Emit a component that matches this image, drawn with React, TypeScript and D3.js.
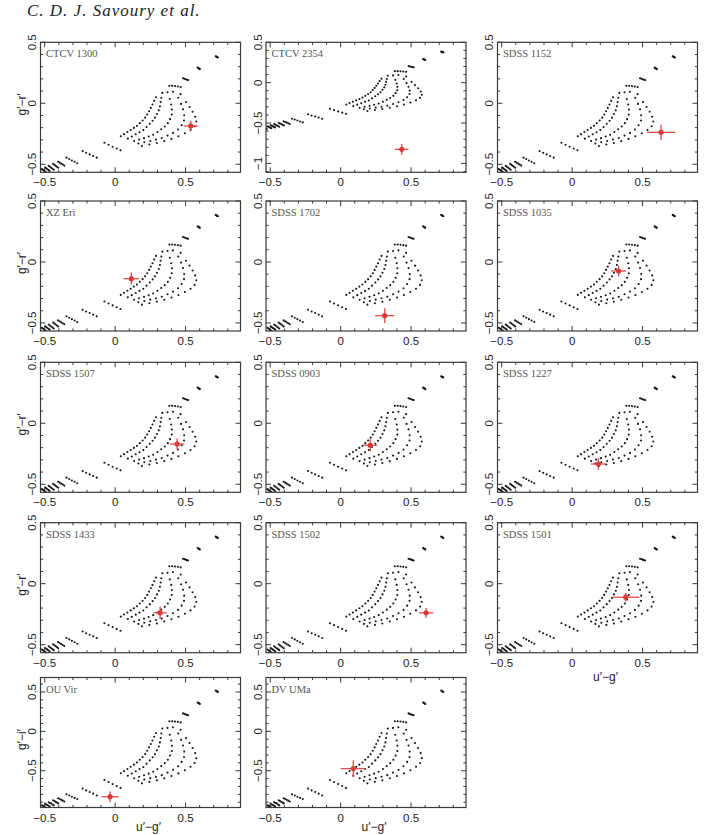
import React from "react";
import * as d3 from "d3";

// DA white dwarf model grid: five log g tracks, each listed hot -> cool.
// u'-g' is shared by both colour planes.
const modelUG = [
  [-0.545, -0.52, -0.497, -0.472, -0.44, -0.405, -0.345, -0.231, -0.076,
    0.04, 0.063, 0.087, 0.11, 0.133, 0.155, 0.175, 0.195, 0.213, 0.228, 0.241, 0.253, 0.265, 0.277, 0.29,
    0.385, 0.482, 0.586, 0.714],
  [-0.54, -0.513, -0.489, -0.463, -0.431, -0.394, -0.326, -0.206, -0.047,
    0.09, 0.118, 0.146, 0.173, 0.2, 0.223, 0.246, 0.266, 0.283, 0.297, 0.31, 0.318, 0.323, 0.328, 0.335,
    0.405, 0.492, 0.59, 0.718],
  [-0.535, -0.506, -0.481, -0.454, -0.422, -0.383, -0.307, -0.181, -0.018,
    0.135, 0.17, 0.205, 0.238, 0.27, 0.3, 0.327, 0.352, 0.374, 0.39, 0.402, 0.403, 0.398, 0.388, 0.372,
    0.425, 0.501, 0.594, 0.722],
  [-0.53, -0.499, -0.473, -0.445, -0.413, -0.372, -0.288, -0.156, 0.011,
    0.165, 0.207, 0.249, 0.29, 0.331, 0.372, 0.411, 0.446, 0.472, 0.489, 0.49, 0.482, 0.468, 0.448, 0.41,
    0.445, 0.51, 0.598, 0.726],
  [-0.525, -0.492, -0.465, -0.436, -0.404, -0.361, -0.269, -0.131, 0.038,
    0.19, 0.243, 0.296, 0.349, 0.4, 0.449, 0.495, 0.535, 0.564, 0.576, 0.568, 0.55, 0.528, 0.503, 0.465,
    0.465, 0.518, 0.601, 0.729],
];

const modelGR = [
  [-0.555, -0.54, -0.527, -0.513, -0.497, -0.479, -0.446, -0.392, -0.324,
    -0.27, -0.253, -0.236, -0.219, -0.202, -0.185, -0.163, -0.141, -0.118, -0.092, -0.065, -0.038, -0.01, 0.02, 0.05,
    0.143, 0.205, 0.292, 0.386],
  [-0.56, -0.546, -0.534, -0.521, -0.505, -0.487, -0.457, -0.406, -0.34,
    -0.29, -0.272, -0.254, -0.237, -0.22, -0.194, -0.168, -0.143, -0.118, -0.088, -0.058, -0.025, 0.01, 0.045, 0.085,
    0.143, 0.201, 0.289, 0.383],
  [-0.565, -0.552, -0.541, -0.529, -0.513, -0.495, -0.469, -0.419, -0.356,
    -0.31, -0.298, -0.286, -0.273, -0.258, -0.236, -0.213, -0.19, -0.163, -0.13, -0.093, -0.052, -0.01, 0.035, 0.09,
    0.141, 0.197, 0.286, 0.38],
  [-0.57, -0.558, -0.548, -0.537, -0.521, -0.503, -0.48, -0.432, -0.371,
    -0.33, -0.32, -0.309, -0.298, -0.285, -0.265, -0.243, -0.215, -0.18, -0.141, -0.098, -0.05, -0.005, 0.045, 0.095,
    0.138, 0.193, 0.283, 0.377],
  [-0.575, -0.564, -0.555, -0.545, -0.529, -0.511, -0.492, -0.446, -0.386,
    -0.35, -0.338, -0.326, -0.31, -0.292, -0.271, -0.246, -0.219, -0.188, -0.15, -0.11, -0.07, -0.03, 0.01, 0.075,
    0.134, 0.19, 0.28, 0.375],
];

const modelGI = [
  [-0.96, -0.94, -0.92, -0.9, -0.875, -0.85, -0.8, -0.727, -0.618,
    -0.532, -0.505, -0.478, -0.45, -0.423, -0.396, -0.361, -0.326, -0.289, -0.247, -0.204, -0.161, -0.116, -0.068, -0.02,
    0.129, 0.228, 0.367, 0.518],
  [-0.965, -0.945, -0.93, -0.91, -0.885, -0.86, -0.815, -0.75, -0.644,
    -0.564, -0.535, -0.506, -0.479, -0.452, -0.41, -0.369, -0.329, -0.289, -0.241, -0.193, -0.14, -0.084, -0.028, 0.036,
    0.129, 0.222, 0.362, 0.513],
  [-0.97, -0.95, -0.935, -0.915, -0.895, -0.87, -0.83, -0.77, -0.67,
    -0.596, -0.577, -0.558, -0.537, -0.513, -0.478, -0.441, -0.404, -0.361, -0.308, -0.249, -0.183, -0.116, -0.044, 0.044,
    0.126, 0.215, 0.358, 0.508],
  [-0.975, -0.96, -0.945, -0.93, -0.905, -0.88, -0.845, -0.791, -0.694,
    -0.628, -0.612, -0.594, -0.577, -0.556, -0.524, -0.489, -0.444, -0.388, -0.326, -0.257, -0.18, -0.108, -0.028, 0.052,
    0.121, 0.209, 0.353, 0.503],
  [-0.98, -0.97, -0.955, -0.94, -0.915, -0.89, -0.86, -0.814, -0.718,
    -0.66, -0.641, -0.622, -0.596, -0.567, -0.534, -0.494, -0.45, -0.401, -0.34, -0.276, -0.212, -0.148, -0.084, 0.02,
    0.114, 0.204, 0.348, 0.5],
];

// measured colours of each system
const systems = [
  "CTCV 1300", "CTCV 2354", "SDSS 1152",
  "XZ Eri", "SDSS 1702", "SDSS 1035",
  "SDSS 1507", "SDSS 0903", "SDSS 1227",
  "SDSS 1433", "SDSS 1502", "SDSS 1501",
  "OU Vir", "DV UMa",
];
const obsUG = [0.537, 0.434, 0.631, 0.115, 0.313, 0.33, 0.44, 0.21, 0.186, 0.319, 0.607, 0.38, -0.036, 0.09];
const obsUGErr = [0.05, 0.048, 0.1, 0.055, 0.068, 0.052, 0.05, 0.05, 0.053, 0.047, 0.05, 0.097, 0.06, 0.09];
const obsColour = [-0.186, -0.826, -0.238, -0.137, -0.44, -0.074, -0.17, -0.18, -0.334, -0.239, -0.239, -0.111, -0.83, -0.473];
const obsColourErr = [0.045, 0.066, 0.064, 0.05, 0.06, 0.044, 0.045, 0.05, 0.048, 0.052, 0.04, 0.035, 0.068, 0.106];
// which colour is on the y axis
const yColour = ["gr", "gr", "gr", "gr", "gr", "gr", "gr", "gr", "gr", "gr", "gr", "gr", "gi", "gi"];

const yLabels: Record<string, string> = { gr: "g\u2032\u2212r\u2032", gi: "g\u2032\u2212i\u2032" };

const W = 707;
const H = 835;
const colLeft = [40.5, 266, 497.5];
const rowTop = [42.3, 201, 362.3, 522.7, 677.5];
const PW = 200;
const PH = 130;
const xDomain: [number, number] = [-0.53, 0.89];

const RED = "#e04a4a";
const AXIS = "#3a3a3a";
const sans = "'Liberation Sans', Arial, sans-serif";
const serif = "'Liberation Serif', 'Times New Roman', serif";

const fmt = (v: number) => {
  const r = Math.round(v * 10) / 10;
  if (r === 0) return "0";
  return (r < 0 ? "\u2212" : "") + String(Math.abs(r));
};
const isMajor = (v: number) => Math.abs(v * 2 - Math.round(v * 2)) < 1e-6;

function yDomainFor(i: number): [number, number] {
  if (yColour[i] === "gi") return [-0.967, 0.684];
  if (systems[i] === "CTCV 2354") return [-1.11, 0.5];
  return [-0.566, 0.5];
}

function Panel({ i }: { i: number }) {
  const col = i % 3;
  const row = Math.floor(i / 3);
  const left = colLeft[col];
  const top = rowTop[row];
  const bottom = top + PH;
  const right = left + PW;
  const yd = yDomainFor(i);
  const x = d3.scaleLinear().domain(xDomain).range([left, right]);
  const y = d3.scaleLinear().domain(yd).range([bottom, top]);
  const modelY = yColour[i] === "gi" ? modelGI : modelGR;

  const xt = d3.ticks(xDomain[0], xDomain[1], 14);
  const yt = d3.ticks(yd[0], yd[1], Math.round((yd[1] - yd[0]) / 0.1));

  const dots: [number, number][] = [];
  modelUG.forEach((track, k) => {
    track.forEach((u, j) => dots.push([u, modelY[k][j]]));
  });

  const clipId = `clip-${i}`;
  const ox = x(obsUG[i]);
  const oy = y(obsColour[i]);

  return (
    <g>
      <defs>
        <clipPath id={clipId}>
          <rect x={left} y={top} width={PW} height={PH} />
        </clipPath>
      </defs>
      <g clipPath={`url(#${clipId})`}>
        {dots.map(([u, c], j) => (
          <circle key={j} cx={x(u)} cy={y(c)} r={1.05} fill="#161616" />
        ))}
      </g>

      {/* measured colour with error bars */}
      <g stroke={RED} strokeWidth={1.3}>
        <line x1={x(obsUG[i] - obsUGErr[i])} x2={x(obsUG[i] + obsUGErr[i])} y1={oy} y2={oy} />
        <line x1={ox} x2={ox} y1={y(obsColour[i] - obsColourErr[i])} y2={y(obsColour[i] + obsColourErr[i])} />
      </g>
      <circle cx={ox} cy={oy} r={2.6} fill="#d93a3a" />

      {/* frame and inward ticks on all four sides */}
      <rect x={left} y={top} width={PW} height={PH} fill="none" stroke={AXIS} strokeWidth={1.2} />
      <g stroke={AXIS} strokeWidth={1}>
        {xt.map((v) => {
          const len = isMajor(v) ? 5 : 2.6;
          const px = x(v);
          return (
            <g key={`x${v}`}>
              <line x1={px} x2={px} y1={bottom} y2={bottom - len} />
              <line x1={px} x2={px} y1={top} y2={top + len} />
            </g>
          );
        })}
        {yt.map((v) => {
          const len = isMajor(v) ? 5 : 2.6;
          const py = y(v);
          return (
            <g key={`y${v}`}>
              <line x1={left} x2={left + len} y1={py} y2={py} />
              <line x1={right} x2={right - len} y1={py} y2={py} />
            </g>
          );
        })}
      </g>

      <g fontFamily={sans} fontSize={11.5} fill="#222">
        {xt.filter(isMajor).map((v) => (
          <text key={`xl${v}`} x={x(v)} y={bottom + 14} textAnchor="middle">
            {fmt(v)}
          </text>
        ))}
        {yt.filter(isMajor).map((v) => (
          <text
            key={`yl${v}`}
            transform={`translate(${left - 4.5},${y(v)}) rotate(-90)`}
            textAnchor="middle"
          >
            {fmt(v)}
          </text>
        ))}
      </g>

      <text x={left + 5.5} y={top + 15} fontFamily={serif} fontSize={10.5} fill="#555">
        {systems[i]}
      </text>

      {col === 0 && (
        <text
          transform={`translate(26,${top + PH / 2 - 3}) rotate(-90)`}
          textAnchor="middle"
          fontFamily={sans}
          fontSize={12}
          fill="#222"
        >
          {yLabels[yColour[i]]}
        </text>
      )}
      {(i === 11 || row === 4) && (
        <text
          x={(left + right) / 2 + 8}
          y={bottom + (row === 4 ? 23.5 : 28)}
          textAnchor="middle"
          fontFamily={sans}
          fontSize={12}
          fill="#222"
        >
          u{"\u2032"}{"\u2212"}g{"\u2032"}
        </text>
      )}
    </g>
  );
}

export default function App() {
  return (
    <svg
      width={W}
      height={H}
      viewBox={`0 0 ${W} ${H}`}
      style={{ position: "absolute", left: 0, top: 0, background: "#fff" }}
    >
      <rect width={W} height={H} fill="#fff" />
      <text x={27} y={16} fontFamily={serif} fontStyle="italic" fontSize={17} letterSpacing={1} fill="#222">
        C. D. J. Savoury et al.
      </text>
      {systems.map((_, i) => (
        <Panel key={i} i={i} />
      ))}
    </svg>
  );
}
